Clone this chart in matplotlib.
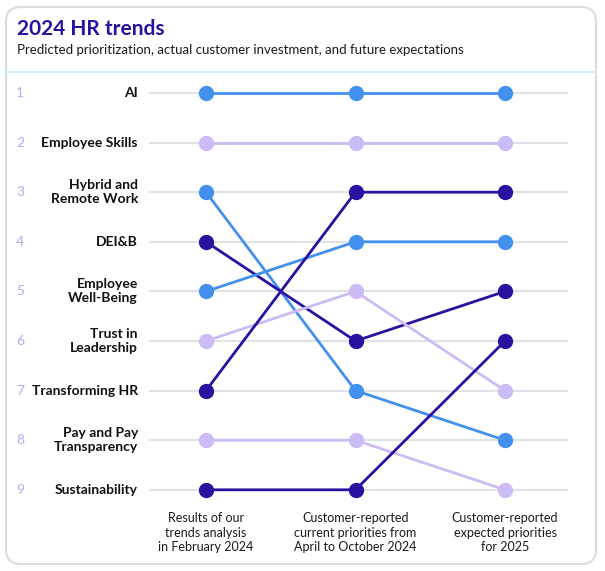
import matplotlib.pyplot as plt
from matplotlib.patches import FancyBboxPatch

plt.rcParams['font.family'] = ['Lato', 'DejaVu Sans']

# data
categories = ['AI', 'Employee Skills', 'Hybrid and\nRemote Work', 'DEI&B',
              'Employee\nWell-Being', 'Trust in\nLeadership', 'Transforming HR',
              'Pay and Pay\nTransparency', 'Sustainability']
rank_feb = [1, 2, 3, 4, 5, 6, 7, 8, 9]
rank_now = [1, 2, 7, 6, 4, 5, 3, 8, 9]
rank_2025 = [1, 2, 8, 5, 4, 7, 3, 9, 6]
periods = ['Results of our\ntrends analysis\nin February 2024',
           'Customer-reported\ncurrent priorities from\nApril to October 2024',
           'Customer-reported\nexpected priorities\nfor 2025']

BLUE = '#4390ee'
LAV = '#cdbbf5'
NAVY = '#2a119f'
colors = [BLUE, LAV, BLUE, NAVY, BLUE, LAV, NAVY, LAV, NAVY]

W, H = 605, 571
fig = plt.figure(figsize=(W / 100, H / 100), dpi=100)

# card behind everything
card = FancyBboxPatch((6 / W, 7 / H), 590 / W, 557 / H,
                      boxstyle='round,pad=0,rounding_size=0.025',
                      transform=fig.transFigure, facecolor='white',
                      edgecolor='#dcdcdc', lw=1.5, zorder=-5)
fig.patches.append(card)

fig.text(17 / W, 1 - 29 / H, '2024 HR trends', fontsize=15, fontweight='bold',
         color=NAVY, va='center', ha='left')
fig.text(17 / W, 1 - 50 / H,
         'Predicted prioritization, actual customer investment, and future expectations',
         fontsize=9.5, color='#1a1a1a', va='center', ha='left')
fig.add_artist(plt.Line2D([6 / W, 596 / W], [1 - 72 / H, 1 - 72 / H],
                          transform=fig.transFigure, color='#d3e8fa', lw=1.5))

# axes mapped so column i sits at its pixel x and rank r at its pixel y
ax = fig.add_axes([0, 0, 1, 1])
ax.set_xlim(-206 / 149.5, (W - 206) / 149.5)
ax.set_ylim(1 + (H - 93) / 49.6, 1 - 93 / 49.6)
ax.axis('off')

for r in range(1, 10):
    ax.plot([-0.375, 2.415], [r, r], color='#dfe3e8', lw=1.5, zorder=1)
    ax.text(-1.27, r, str(r), color='#b9a8f0', fontsize=10, ha='left', va='center')

for i, cat in enumerate(categories):
    ax.text(-0.455, rank_feb[i], cat, fontsize=10, fontweight='bold',
            ha='right', va='center', color='#111111', linespacing=1.2)

xs = [0, 1, 2]
for i in range(len(categories)):
    ys = [rank_feb[i], rank_now[i], rank_2025[i]]
    ax.plot(xs, ys, color=colors[i], lw=2, marker='o', markersize=10,
            zorder=3)

for j, p in enumerate(periods):
    ax.text(xs[j], 9.45, p, fontsize=9, ha='center', va='top',
            color='#1a1a1a', linespacing=1.25)

fig.savefig('out.png', dpi=100)
